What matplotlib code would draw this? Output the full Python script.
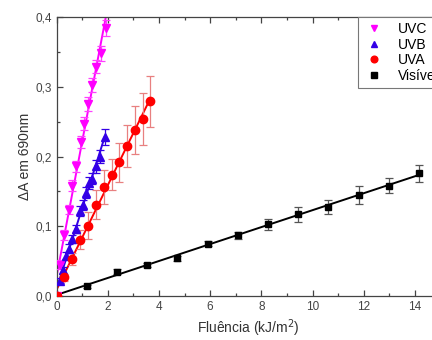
import numpy as np
import matplotlib
matplotlib.use("Agg")
import matplotlib.pyplot as plt
from matplotlib.ticker import MultipleLocator, FuncFormatter

plt.rcParams['font.family'] = ['Liberation Sans', 'DejaVu Sans']

# data
uvc_x = [0.0, 0.13, 0.29, 0.47, 0.62, 0.76, 0.94, 1.08, 1.23, 1.40, 1.56, 1.73, 1.93]
uvc_y = [0.0, 0.045, 0.088, 0.124, 0.158, 0.186, 0.221, 0.247, 0.275, 0.302, 0.329, 0.348, 0.384]
uvc_err = [0.003, 0.006, 0.007, 0.007, 0.008, 0.008, 0.009, 0.009, 0.010, 0.010, 0.010, 0.011, 0.011]

uvb_x = [0.0, 0.12, 0.24, 0.36, 0.50, 0.62, 0.75, 0.90, 1.02, 1.15, 1.27, 1.40, 1.55, 1.70, 1.88]
uvb_y = [0.0, 0.022, 0.037, 0.058, 0.068, 0.082, 0.096, 0.122, 0.130, 0.148, 0.162, 0.168, 0.186, 0.200, 0.228]
uvb_err = [0.003, 0.004, 0.005, 0.005, 0.006, 0.006, 0.006, 0.007, 0.007, 0.008, 0.008, 0.008, 0.009, 0.010, 0.011]

uva_x = [0.0, 0.29, 0.59, 0.92, 1.23, 1.55, 1.85, 2.15, 2.44, 2.74, 3.06, 3.37, 3.67]
uva_y = [0.0, 0.027, 0.053, 0.081, 0.101, 0.131, 0.156, 0.174, 0.192, 0.215, 0.238, 0.254, 0.279]
uva_err = [0.002, 0.005, 0.008, 0.013, 0.019, 0.021, 0.024, 0.022, 0.028, 0.030, 0.035, 0.037, 0.036]

vis_x = [1.18, 2.36, 3.54, 4.72, 5.90, 7.08, 8.26, 9.44, 10.62, 11.80, 12.98, 14.16]
vis_y = [0.014, 0.035, 0.045, 0.054, 0.075, 0.087, 0.103, 0.117, 0.128, 0.145, 0.158, 0.176]
vis_err = [0.002, 0.003, 0.003, 0.004, 0.004, 0.005, 0.008, 0.011, 0.010, 0.013, 0.011, 0.012]

series = [
    ("UVC", uvc_x, uvc_y, uvc_err, "#ff00ff", "#ff40ff", "v", 5.5),
    ("UVB", uvb_x, uvb_y, uvb_err, "#3300e6", "#3300e6", "^", 5.5),
    ("UVA", uva_x, uva_y, uva_err, "#ff0000", "#e88080", "o", 6),
    ("Visível", vis_x, vis_y, vis_err, "#000000", "#555555", "s", 5),
]

fig = plt.figure(figsize=(4.32, 3.4), dpi=100)
ax = fig.add_axes([0.1308, 0.1294, 0.889, 0.8206])

handles = []
for name, x, y, err, col, ecol, mk, ms in series:
    x = np.array(x)
    y = np.array(y)
    k, b = np.polyfit(x, y, 1)
    xx = np.array([0.0, x.max()])
    ax.plot(xx, k * xx + b, color=col, lw=1.4, zorder=2)
    ax.errorbar(x, y, yerr=err, fmt="none", ecolor=ecol, elinewidth=0.9,
                capsize=3, capthick=0.9, zorder=3)
    h, = ax.plot(x, y, linestyle="none", marker=mk, color=col, markersize=ms,
                 zorder=4, label=name)
    handles.append(h)

ax.set_xlim(0, 15)
ax.set_ylim(0, 0.4)
ax.xaxis.set_major_locator(MultipleLocator(2))
ax.xaxis.set_minor_locator(MultipleLocator(1))
ax.yaxis.set_major_locator(MultipleLocator(0.1))
ax.yaxis.set_minor_locator(MultipleLocator(0.05))
ax.yaxis.set_major_formatter(FuncFormatter(lambda v, p: f"{v:.1f}".replace(".", ",")))
ax.tick_params(which="both", direction="in", top=True, right=False, colors="#444444",
               labelsize=8.5, width=0.9)
ax.tick_params(which="major", length=4)
ax.tick_params(which="minor", length=2)
for s in ax.spines.values():
    s.set_color("#444444")
    s.set_linewidth(0.9)

ax.set_xlabel("Fluência (kJ/m$^2$)", fontsize=10, color="#333333", labelpad=3)
ax.set_ylabel("ΔA em 690nm", fontsize=10, color="#333333", labelpad=2)

# legend sits against the top spine and runs off the right edge, as in the source figure
leg = fig.legend(handles=handles, loc="upper left",
                 bbox_to_anchor=(358 / 432, 1 - 17 / 340), bbox_transform=fig.transFigure,
                 borderaxespad=0, fontsize=10, fancybox=False, framealpha=1,
                 edgecolor="#777777", handlelength=1.6, handletextpad=0.9,
                 labelspacing=0.12, markerscale=0.8, borderpad=0.35)
leg.get_frame().set_linewidth(0.8)

fig.savefig("out.png", dpi=100)
